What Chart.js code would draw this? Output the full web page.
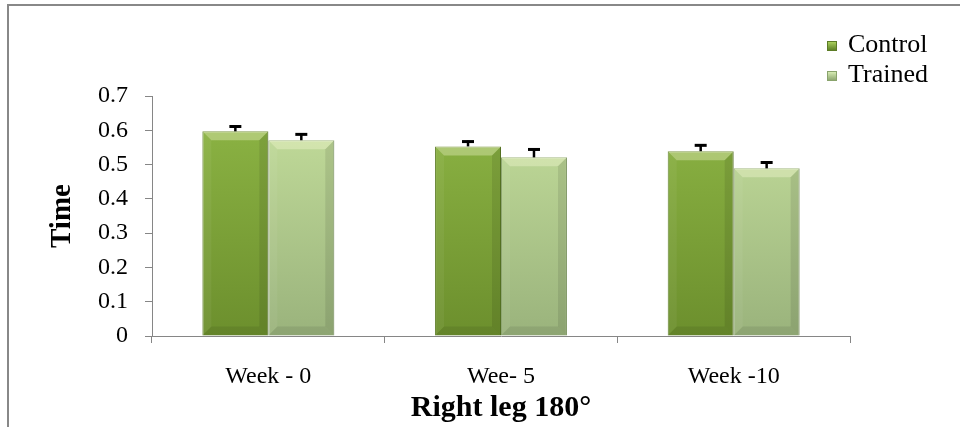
<!DOCTYPE html>
<html lang="en">
<head>
<meta charset="UTF-8">
<title>Right leg 180°</title>
<script src="https://cdn.jsdelivr.net/npm/chart.js"></script>
<style>
    html, body {
        margin: 0;
        padding: 0;
        background: #fff;
    }
    .wrap {
        position: relative;
        width: 960px;
        height: 427px;
        overflow: hidden;
    }
    #chart {
        position: absolute;
        left: 0;
        top: 0;
    }
    .frame {
        position: absolute;
        left: 7px;
        top: 4px;
        right: -4px;
        bottom: -4px;
        border-left: 2px solid #888;
        border-top: 2px solid #888;
        pointer-events: none;
    }
    .legend {
        position: absolute;
        left: 827px;
        top: 29px;
        font-family: 'Liberation Serif', serif;
        font-size: 26px;
        color: #000;
    }
    .legend .item {
        height: 30px;
        line-height: 30px;
        white-space: nowrap;
    }
    .legend .box {
        display: inline-block;
        width: 10px;
        height: 10px;
        margin-right: 11px;
        vertical-align: 1px;
        box-sizing: border-box;
    }
</style>
</head>
<body>
<div class="wrap">
    <canvas id="chart" width="960" height="427"></canvas>
    <div class="frame"></div>
    <div class="legend" id="legend"></div>
</div>
<script>
    const categories = ['Week - 0', 'Wee- 5', 'Week -10'];
    const seriesNames = ['Control', 'Trained'];
    const controlTime = [0.597, 0.553, 0.539];
    const trainedTime = [0.571, 0.521, 0.489];
    const controlErr = [0.017, 0.017, 0.020];
    const trainedErr = [0.020, 0.026, 0.020];
    const yTicks = [0, 0.1, 0.2, 0.3, 0.4, 0.5, 0.6, 0.7];

    const serif = 'Liberation Serif';
    const axisGray = '#868686';

    // top / bottom colours of the bar body, plus outline
    const shades = [
        { top: '#8fb746', bottom: '#6c8f2d', edge: '#5c7c26', key: ['#a9cf5c', '#5f8227'] },
        { top: '#c6e09d', bottom: '#9ab37c', edge: '#89a36c', key: ['#d6ebb3', '#8fa872'] }
    ];

    let barFill = (idx) => (ctx) => {
        const area = ctx.chart.chartArea;
        if (!area) return shades[idx].top;
        const g = ctx.chart.ctx.createLinearGradient(0, area.top, 0, area.bottom);
        g.addColorStop(0, shades[idx].top);
        g.addColorStop(1, shades[idx].bottom);
        return g;
    };

    // bevelled faces on each bar
    const bevel = {
        id: 'bevel',
        afterDatasetDraw(chart, args) {
            const c = chart.ctx;
            const poly = (pts, fill) => {
                c.beginPath();
                c.moveTo(pts[0][0], pts[0][1]);
                for (let k = 1; k < pts.length; k++) c.lineTo(pts[k][0], pts[k][1]);
                c.closePath();
                c.fillStyle = fill;
                c.fill();
            };
            args.meta.data.forEach(bar => {
                const p = bar.getProps(['x', 'y', 'base', 'width'], true);
                const l = p.x - p.width / 2, r = p.x + p.width / 2;
                const t = p.y, b = p.base, s = 9;
                c.save();
                poly([[l, t], [r, t], [r - s, t + s], [l + s, t + s]], 'rgba(255,255,225,0.32)');
                poly([[l, t], [l + s, t + s], [l + s, b - s], [l, b]], 'rgba(255,255,255,0.05)');
                poly([[r, t], [r - s, t + s], [r - s, b - s], [r, b]], 'rgba(0,0,0,0.09)');
                poly([[l, b], [l + s, b - s], [r - s, b - s], [r, b]], 'rgba(0,0,0,0.08)');
                c.restore();
            });
        }
    };

    // upper error whiskers
    const whiskers = {
        id: 'whiskers',
        afterDatasetsDraw(chart) {
            const c = chart.ctx;
            const yScale = chart.scales.y;
            chart.data.datasets.forEach((ds, i) => {
                const meta = chart.getDatasetMeta(i);
                meta.data.forEach((bar, j) => {
                    const x = bar.x;
                    const y0 = yScale.getPixelForValue(ds.data[j]);
                    const y1 = yScale.getPixelForValue(ds.data[j] + ds.errors[j]);
                    c.save();
                    c.strokeStyle = '#000';
                    c.lineWidth = 2.5;
                    c.beginPath();
                    c.moveTo(x, y0);
                    c.lineTo(x, y1);
                    c.stroke();
                    c.lineWidth = 3;
                    c.beginPath();
                    c.moveTo(x - 6, y1 + 1);
                    c.lineTo(x + 6, y1 + 1);
                    c.stroke();
                    c.restore();
                });
            });
        }
    };

    const chart = new Chart(document.getElementById('chart'), {
        type: 'bar',
        data: {
            labels: categories,
            datasets: [{
                label: seriesNames[0],
                data: controlTime,
                errors: controlErr,
                backgroundColor: barFill(0),
                borderColor: shades[0].edge,
                borderWidth: 1,
                categoryPercentage: 0.567,
                barPercentage: 1
            }, {
                label: seriesNames[1],
                data: trainedTime,
                errors: trainedErr,
                backgroundColor: barFill(1),
                borderColor: shades[1].edge,
                borderWidth: 1,
                categoryPercentage: 0.567,
                barPercentage: 1
            }]
        },
        options: {
            responsive: false,
            animation: false,
            events: [],
            layout: {
                padding: { left: 0, top: 96, right: 110, bottom: 0 }
            },
            plugins: {
                legend: { display: false },
                tooltip: { enabled: false }
            },
            scales: {
                x: {
                    offset: true,
                    grid: {
                        offset: true,
                        drawOnChartArea: false,
                        tickLength: 7,
                        color: axisGray
                    },
                    border: { color: axisGray },
                    ticks: {
                        color: '#000',
                        padding: 19,
                        font: { family: serif, size: 24 }
                    },
                    title: {
                        display: true,
                        text: 'Right leg 180°',
                        color: '#000',
                        font: { family: serif, size: 30, weight: 'bold' },
                        padding: { top: 0, bottom: 1 }
                    },
                    afterFit: (s) => { s.height = 91; }
                },
                y: {
                    min: 0,
                    max: 0.7,
                    afterBuildTicks: (s) => { s.ticks = yTicks.map(v => ({ value: v })); },
                    grid: {
                        drawOnChartArea: false,
                        tickLength: 7,
                        color: axisGray
                    },
                    border: { color: axisGray },
                    ticks: {
                        color: '#000',
                        padding: 17,
                        font: { family: serif, size: 24 },
                        callback: (v) => String(v)
                    },
                    title: {
                        display: true,
                        text: 'Time',
                        color: '#000',
                        font: { family: serif, size: 29, weight: 'bold' },
                        padding: { top: 45, bottom: 0 }
                    },
                    afterFit: (s) => { s.width = 152; }
                }
            }
        },
        plugins: [bevel, whiskers]
    });

    // legend built from the datasets
    let elLegend = document.getElementById('legend');
    chart.data.datasets.forEach((ds, i) => {
        const k = shades[i].key;
        elLegend.innerHTML += `<div class="item"><span class="box" style="background:linear-gradient(${k[0]}, ${k[1]});border:1px solid ${shades[i].edge}"></span>${ds.label}</div>`;
    });
</script>
</body>
</html>
